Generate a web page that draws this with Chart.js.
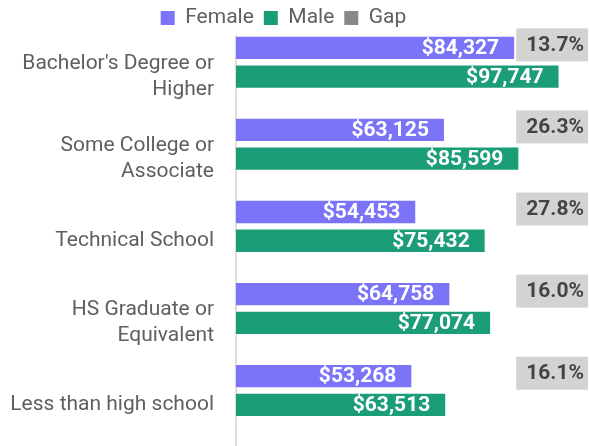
<!DOCTYPE html>
<html><head><meta charset="utf-8">
<script src="https://cdn.jsdelivr.net/npm/chart.js@4.4.1/dist/chart.umd.min.js"></script>
<style>html,body{margin:0;padding:0;background:#fff;}canvas{display:block;}</style>
</head><body>
<canvas id="c" width="589" height="446"></canvas>
<script>
const categories = [["Bachelor's Degree or", "Higher"], ["Some College or", "Associate"], "Technical School", ["HS Graduate or", "Equivalent"], "Less than high school"];
const femaleIncome = [84327, 63125, 54453, 64758, 53268];
const maleIncome = [97747, 85599, 75432, 77074, 63513];
const gapPct = [13.7, 26.3, 27.8, 16.0, 16.1];
const seriesNames = ['Female', 'Male', 'Gap'];
const xMax = 100000;

const FONT = 'Roboto';
const TEXT = '#5f5f5f';

const labelPlugin = {
  id: 'barLabels',
  afterDatasetsDraw(chart) {
    const ctx = chart.ctx;
    ctx.save();
    ctx.font = 'bold 21px ' + FONT;
    ctx.textBaseline = 'middle';
    ctx.textAlign = 'right';
    [0, 1].forEach(di => {
      const meta = chart.getDatasetMeta(di);
      meta.data.forEach((bar, i) => {
        const v = chart.data.datasets[di].data[i];
        ctx.fillStyle = '#ffffff';
        ctx.fillText('$' + v.toLocaleString('en-US'), bar.x - 16, bar.y + 1);
      });
    });
    const fMeta = chart.getDatasetMeta(0);
    const right = chart.width - 5;
    gapPct.forEach((g, i) => {
      const txt = g.toFixed(1) + '%';
      const w = ctx.measureText(txt).width;
      const cy = fMeta.data[i].y - 3;
      ctx.fillStyle = '#d3d3d3';
      ctx.fillRect(right - w - 10, cy - 16.5, w + 14, 33);
      ctx.fillStyle = '#444444';
      ctx.fillText(txt, right, cy + 1);
    });
    ctx.restore();
  }
};

function draw() {
  new Chart(document.getElementById('c'), {
    type: 'bar',
    data: {
      labels: categories,
      datasets: [
        { label: seriesNames[0], data: femaleIncome, backgroundColor: '#7b73f8', borderColor: 'rgba(255,255,255,0.5)', borderWidth: 1 },
        { label: seriesNames[1], data: maleIncome, backgroundColor: '#1b9e77', borderColor: 'rgba(255,255,255,0.5)', borderWidth: 1 },
        { label: seriesNames[2], data: categories.map(() => null), backgroundColor: '#888888' }
      ]
    },
    options: {
      indexAxis: 'y',
      responsive: false,
      animation: false,
      events: [],
      categoryPercentage: 1.05,
      barPercentage: 0.845,
      layout: { padding: { top: -2.5, bottom: -3.5, left: 0, right: 22 } },
      plugins: {
        tooltip: { enabled: false },
        legend: {
          position: 'top',
          maxHeight: 38,
          labels: {
            font: { family: FONT, size: 21 },
            color: TEXT,
            boxWidth: 14,
            boxHeight: 14,
            padding: 10,
            generateLabels(chart) {
              const items = Chart.defaults.plugins.legend.labels.generateLabels(chart);
              items.forEach(it => { it.lineWidth = 0; });
              return items;
            }
          }
        }
      },
      scales: {
        x: { display: false, min: 0, max: xMax },
        y: {
          afterFit(s) { s.width = 236; s.paddingTop = 0; s.paddingBottom = 0; },
          grid: { display: true, drawOnChartArea: false, drawTicks: false },
          border: { display: true, color: '#dcdcdc', width: 2 },
          ticks: { font: { family: FONT, size: 21, lineHeight: 1.25 }, color: TEXT, padding: 22 }
        }
      }
    },
    plugins: [labelPlugin]
  });
}

Promise.all([
  document.fonts.load('21px Roboto'),
  document.fonts.load('bold 21px Roboto')
]).then(draw, draw);
</script>
</body></html>
